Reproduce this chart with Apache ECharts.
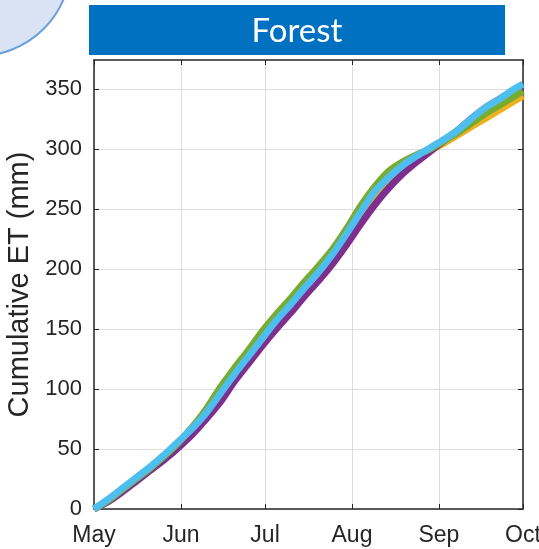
<!DOCTYPE html>
<html>
<head>
<meta charset="utf-8">
<script src="https://cdn.jsdelivr.net/npm/echarts@6/dist/echarts.min.js"></script>
<style>
  html, body { margin: 0; padding: 0; background: #ffffff; overflow: hidden; }
  #chart { width: 539px; height: 549px; }
</style>
</head>
<body>
<div id="chart"></div>
<script>
// Days since 1 May at which the cumulative ET is sampled
const days = [0, 5, 10, 15, 20, 25, 30, 35, 40, 45, 50, 55, 60, 65, 70, 75,
              80, 85, 90, 95, 100, 105, 110, 115, 120, 125, 130, 135, 140, 145, 150, 153];

// Month tick positions (days since 1 May) and their labels
const monthDays = [0, 31, 61, 92, 123, 153];
const monthLabels = ['May', 'Jun', 'Jul', 'Aug', 'Sep', 'Oct'];

// Y ticks
const yTicks = [0, 50, 100, 150, 200, 250, 300, 350];

// Cumulative ET (mm) for each forest run
const etOrange = [0, 7, 15, 24, 33, 42, 52, 63, 76, 91, 107, 122, 137, 151, 165, 179,
                  193, 207, 223, 240, 256, 269, 281, 290, 299, 306, 314, 322, 330, 337, 343, 346];
const etYellow = [0, 7, 16, 25, 34, 44, 55, 66, 79, 94, 110, 125, 140, 154, 168, 182,
                  196, 210, 227, 245, 261, 274, 285, 293, 299, 305, 312, 319, 326, 333, 340, 344];
const etPurple = [0, 6, 14, 23, 32, 41, 51, 62, 75, 89, 106, 121, 136, 150, 163, 177,
                  190, 204, 220, 237, 253, 267, 279, 289, 298, 307, 316, 326, 335, 342, 349, 352];
const etGreen  = [0, 7, 16, 25, 34, 44, 55, 68, 83, 101, 117, 132, 148, 162, 175, 189,
                  202, 216, 233, 252, 268, 281, 289, 295, 300, 307, 314, 322, 330, 337, 344, 348];
const etCyan   = [0, 8, 17, 26, 35, 45, 56, 67, 80, 96, 112, 127, 142, 157, 170, 184,
                  197, 212, 229, 247, 264, 276, 286, 294, 301, 308, 316, 326, 335, 342, 350, 354];

const seriesDefs = [
  { name: 'run1', color: '#D95319', values: etOrange },
  { name: 'run2', color: '#EDB120', values: etYellow },
  { name: 'run3', color: '#7E2F8E', values: etPurple },
  { name: 'run4', color: '#77AC30', values: etGreen },
  { name: 'run5', color: '#4DBEEE', values: etCyan }
];

const axisColor = '#262626';
const gridColor = '#dedede';
const font = '"Liberation Sans", Arial, Helvetica, sans-serif';

const chart = echarts.init(document.getElementById('chart'), null, { renderer: 'canvas' });

const monthName = v => {
  const i = monthDays.indexOf(Math.round(v));
  return i >= 0 ? monthLabels[i] : '';
};

const frameAxis = {
  axisLine: { show: true, onZero: false, lineStyle: { color: axisColor, width: 1.5 } },
  axisLabel: { show: false },
  splitLine: { show: false }
};

chart.setOption({
  animation: false,
  backgroundColor: '#ffffff',
  grid: { left: 94, right: 16, top: 60, bottom: 40, containLabel: false, outerBoundsMode: 'none' },
  graphic: [
    {
      type: 'circle',
      shape: { cx: -22, cy: -37, r: 93 },
      style: { fill: '#dae3f3', stroke: '#6a9fd8', lineWidth: 2 },
      z: 10
    },
    {
      type: 'rect',
      shape: { x: 89, y: 5, width: 416, height: 50 },
      style: { fill: '#0070C0' },
      z: 10
    },
    {
      type: 'text',
      x: 297, y: 31,
      style: {
        text: 'Forest',
        fill: '#ffffff',
        font: '33px Lato, "Open Sans", sans-serif',
        align: 'center',
        verticalAlign: 'middle'
      },
      z: 11
    }
  ],
  xAxis: [
    {
      type: 'value',
      min: 0, max: 153,
      position: 'bottom',
      axisLine: { show: true, onZero: false, lineStyle: { color: axisColor, width: 1.5 } },
      axisTick: { show: true, inside: true, length: 5, customValues: monthDays,
                  lineStyle: { color: axisColor } },
      axisLabel: { show: true, customValues: monthDays, formatter: monthName,
                   color: axisColor, fontSize: 23, fontFamily: font, margin: 15 },
      splitLine: { show: true, lineStyle: { color: gridColor, width: 1 } }
    },
    Object.assign({
      type: 'value',
      min: 0, max: 153,
      position: 'top',
      axisTick: { show: true, inside: true, length: 5, customValues: monthDays,
                  lineStyle: { color: axisColor } }
    }, frameAxis)
  ],
  yAxis: [
    {
      type: 'value',
      min: 0, max: 374,
      position: 'left',
      name: 'Cumulative ET (mm)',
      nameLocation: 'middle',
      nameGap: 56,
      nameRotate: 90,
      nameTextStyle: { color: axisColor, fontSize: 29, fontFamily: font },
      axisLine: { show: true, onZero: false, lineStyle: { color: axisColor, width: 1.5 } },
      axisTick: { show: true, inside: true, length: 5, customValues: yTicks,
                  lineStyle: { color: axisColor } },
      axisLabel: { show: true, customValues: yTicks, color: axisColor,
                   fontSize: 22, fontFamily: font, margin: 12 },
      splitLine: { show: true, lineStyle: { color: gridColor, width: 1 } }
    },
    Object.assign({
      type: 'value',
      min: 0, max: 374,
      position: 'right',
      axisTick: { show: true, inside: true, length: 5, customValues: yTicks,
                  lineStyle: { color: axisColor } }
    }, frameAxis)
  ],
  series: seriesDefs.map((s, k) => ({
    name: s.name,
    type: 'line',
    xAxisIndex: 0,
    yAxisIndex: 0,
    data: days.map((d, i) => [d, s.values[i]]),
    showSymbol: false,
    smooth: 0.2,
    lineStyle: { color: s.color, width: 7 },
    itemStyle: { color: s.color },
    z: 2 + k
  }))
});
</script>
</body>
</html>
